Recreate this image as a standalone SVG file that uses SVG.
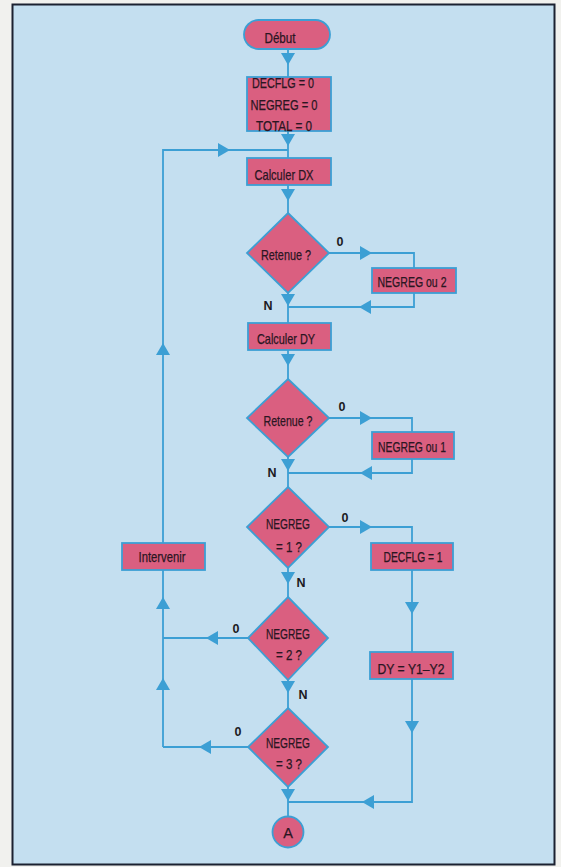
<svg xmlns="http://www.w3.org/2000/svg" xmlns:xlink="http://www.w3.org/1999/xlink" width="561" height="867" viewBox="0 0 561 867">
<style>
.node{fill:#da5f80;stroke:#3c9fd4;stroke-width:1.8}
.t{font-family:"Liberation Sans Narrow","Liberation Sans",Arial,sans-serif;font-stretch:condensed;font-size:14.5px;fill:#2a1622;stroke:#2a1622;stroke-width:0.25;text-anchor:middle}
.lab{font-family:"Liberation Sans","DejaVu Sans",sans-serif;font-weight:bold;font-size:12.5px;fill:#1c1a22;text-anchor:middle}
.ln{fill:none;stroke:#3c9fd4;stroke-width:1.8}
.ah{fill:#3c9fd4}
</style>
<defs>
<polygon id="ad" points="-7,-6 7,-6 0,6" class="ah"/>
</defs>
<rect x="0" y="0" width="561" height="867" fill="#f1f1ee"/>
<rect x="12.5" y="4.5" width="542" height="860" fill="#c4dff0" stroke="#1b2130" stroke-width="2"/>

<g id="connectors">
<path class="ln" d="M288,49V77 M288,131V158 M288,185V213 M288,293V323 M288,350V379 M288,457V487 M288,568V597 M288,680V708 M288,787V816"/>
<path class="ln" d="M163,747V150H288"/>
<path class="ln" d="M329,253H414V268 M414,293V307H288"/>
<path class="ln" d="M329,418H412V432 M412,459V473H288"/>
<path class="ln" d="M329,527H412V543 M412,570V652 M412,679V802H288"/>
<path class="ln" d="M248,638H163 M249,747H163"/>
<use xlink:href="#ad" transform="translate(288,59)"/>
<use xlink:href="#ad" transform="translate(288,140)"/>
<use xlink:href="#ad" transform="translate(288,195)"/>
<use xlink:href="#ad" transform="translate(288,300)"/>
<use xlink:href="#ad" transform="translate(288,360)"/>
<use xlink:href="#ad" transform="translate(288,465)"/>
<use xlink:href="#ad" transform="translate(288,578)"/>
<use xlink:href="#ad" transform="translate(288,687)"/>
<use xlink:href="#ad" transform="translate(288,795)"/>
<use xlink:href="#ad" transform="translate(412,608)"/>
<use xlink:href="#ad" transform="translate(412,727)"/>
<use xlink:href="#ad" transform="translate(224,150) rotate(-90)"/>
<use xlink:href="#ad" transform="translate(366,253) rotate(-90)"/>
<use xlink:href="#ad" transform="translate(366,418) rotate(-90)"/>
<use xlink:href="#ad" transform="translate(366,527) rotate(-90)"/>
<use xlink:href="#ad" transform="translate(365,307) rotate(90)"/>
<use xlink:href="#ad" transform="translate(366,473) rotate(90)"/>
<use xlink:href="#ad" transform="translate(368,802) rotate(90)"/>
<use xlink:href="#ad" transform="translate(212,638) rotate(90)"/>
<use xlink:href="#ad" transform="translate(205,747) rotate(90)"/>
<use xlink:href="#ad" transform="translate(163,349) rotate(180)"/>
<use xlink:href="#ad" transform="translate(163,603) rotate(180)"/>
<use xlink:href="#ad" transform="translate(163,684) rotate(180)"/>
<text class="lab" x="340" y="246">0</text>
<text class="lab" x="342" y="411">0</text>
<text class="lab" x="345" y="522">0</text>
<text class="lab" x="236" y="633">0</text>
<text class="lab" x="238" y="736">0</text>
<text class="lab" x="268" y="310">N</text>
<text class="lab" x="272" y="477">N</text>
<text class="lab" x="301" y="587">N</text>
<text class="lab" x="303" y="699">N</text>
</g>

<g id="debut">
<rect class="node" x="244" y="20" width="86" height="29" rx="14.5"/>
<text class="t" x="280" y="42.5" textLength="31" lengthAdjust="spacingAndGlyphs">Début</text>
</g>
<g id="init">
<rect class="node" x="247" y="77" width="84" height="54"/>
<text class="t" x="283" y="88" textLength="62" lengthAdjust="spacingAndGlyphs">DECFLG = 0</text>
<text class="t" x="284" y="109.5" textLength="67" lengthAdjust="spacingAndGlyphs">NEGREG = 0</text>
<text class="t" x="284" y="131" textLength="56" lengthAdjust="spacingAndGlyphs">TOTAL = 0</text>
</g>
<g id="calc-dx">
<rect class="node" x="247" y="158" width="84" height="27"/>
<text class="t" x="284" y="180" textLength="59" lengthAdjust="spacingAndGlyphs">Calculer DX</text>
</g>
<g id="retenue1">
<polygon class="node" points="288,213 329,253 288,293 247,253"/>
<text class="t" x="286" y="259.5" textLength="50" lengthAdjust="spacingAndGlyphs">Retenue ?</text>
</g>
<g id="negreg-ou-2">
<rect class="node" x="372" y="268" width="84" height="25"/>
<text class="t" x="412" y="287" textLength="69" lengthAdjust="spacingAndGlyphs">NEGREG ou 2</text>
</g>
<g id="calc-dy">
<rect class="node" x="248" y="323" width="83" height="27"/>
<text class="t" x="286" y="343.5" textLength="58" lengthAdjust="spacingAndGlyphs">Calculer DY</text>
</g>
<g id="retenue2">
<polygon class="node" points="288,379 329,418 288,457 247,418"/>
<text class="t" x="288" y="425.5" textLength="49" lengthAdjust="spacingAndGlyphs">Retenue ?</text>
</g>
<g id="negreg-ou-1">
<rect class="node" x="372" y="432" width="82" height="27"/>
<text class="t" x="412" y="452" textLength="68" lengthAdjust="spacingAndGlyphs">NEGREG ou 1</text>
</g>
<g id="negreg1">
<polygon class="node" points="288,487 329,527 288,568 247,527"/>
<text class="t" x="288" y="528.5" textLength="44" lengthAdjust="spacingAndGlyphs">NEGREG</text>
<text class="t" x="289" y="552" textLength="26" lengthAdjust="spacingAndGlyphs">= 1 ?</text>
</g>
<g id="decflg1">
<rect class="node" x="371" y="543" width="82" height="27"/>
<text class="t" x="413" y="561.5" textLength="59" lengthAdjust="spacingAndGlyphs">DECFLG = 1</text>
</g>
<g id="intervenir">
<rect class="node" x="122" y="543" width="83" height="27"/>
<text class="t" x="162" y="562" textLength="47" lengthAdjust="spacingAndGlyphs">Intervenir</text>
</g>
<g id="negreg2">
<polygon class="node" points="288,597 328,638 288,680 248,638"/>
<text class="t" x="288" y="639" textLength="44" lengthAdjust="spacingAndGlyphs">NEGREG</text>
<text class="t" x="289" y="660" textLength="26" lengthAdjust="spacingAndGlyphs">= 2 ?</text>
</g>
<g id="dy-y1-y2">
<rect class="node" x="370" y="652" width="83" height="27"/>
<text class="t" x="411" y="674" textLength="67" lengthAdjust="spacingAndGlyphs">DY = Y1–Y2</text>
</g>
<g id="negreg3">
<polygon class="node" points="288,708 328,747 288,787 248,747"/>
<text class="t" x="288" y="747.5" textLength="44" lengthAdjust="spacingAndGlyphs">NEGREG</text>
<text class="t" x="289" y="768.5" textLength="26" lengthAdjust="spacingAndGlyphs">= 3 ?</text>
</g>
<g id="connector-a">
<circle class="node" cx="288" cy="832" r="15.5"/>
<text class="t" x="288" y="838">A</text>
</g>
</svg>
